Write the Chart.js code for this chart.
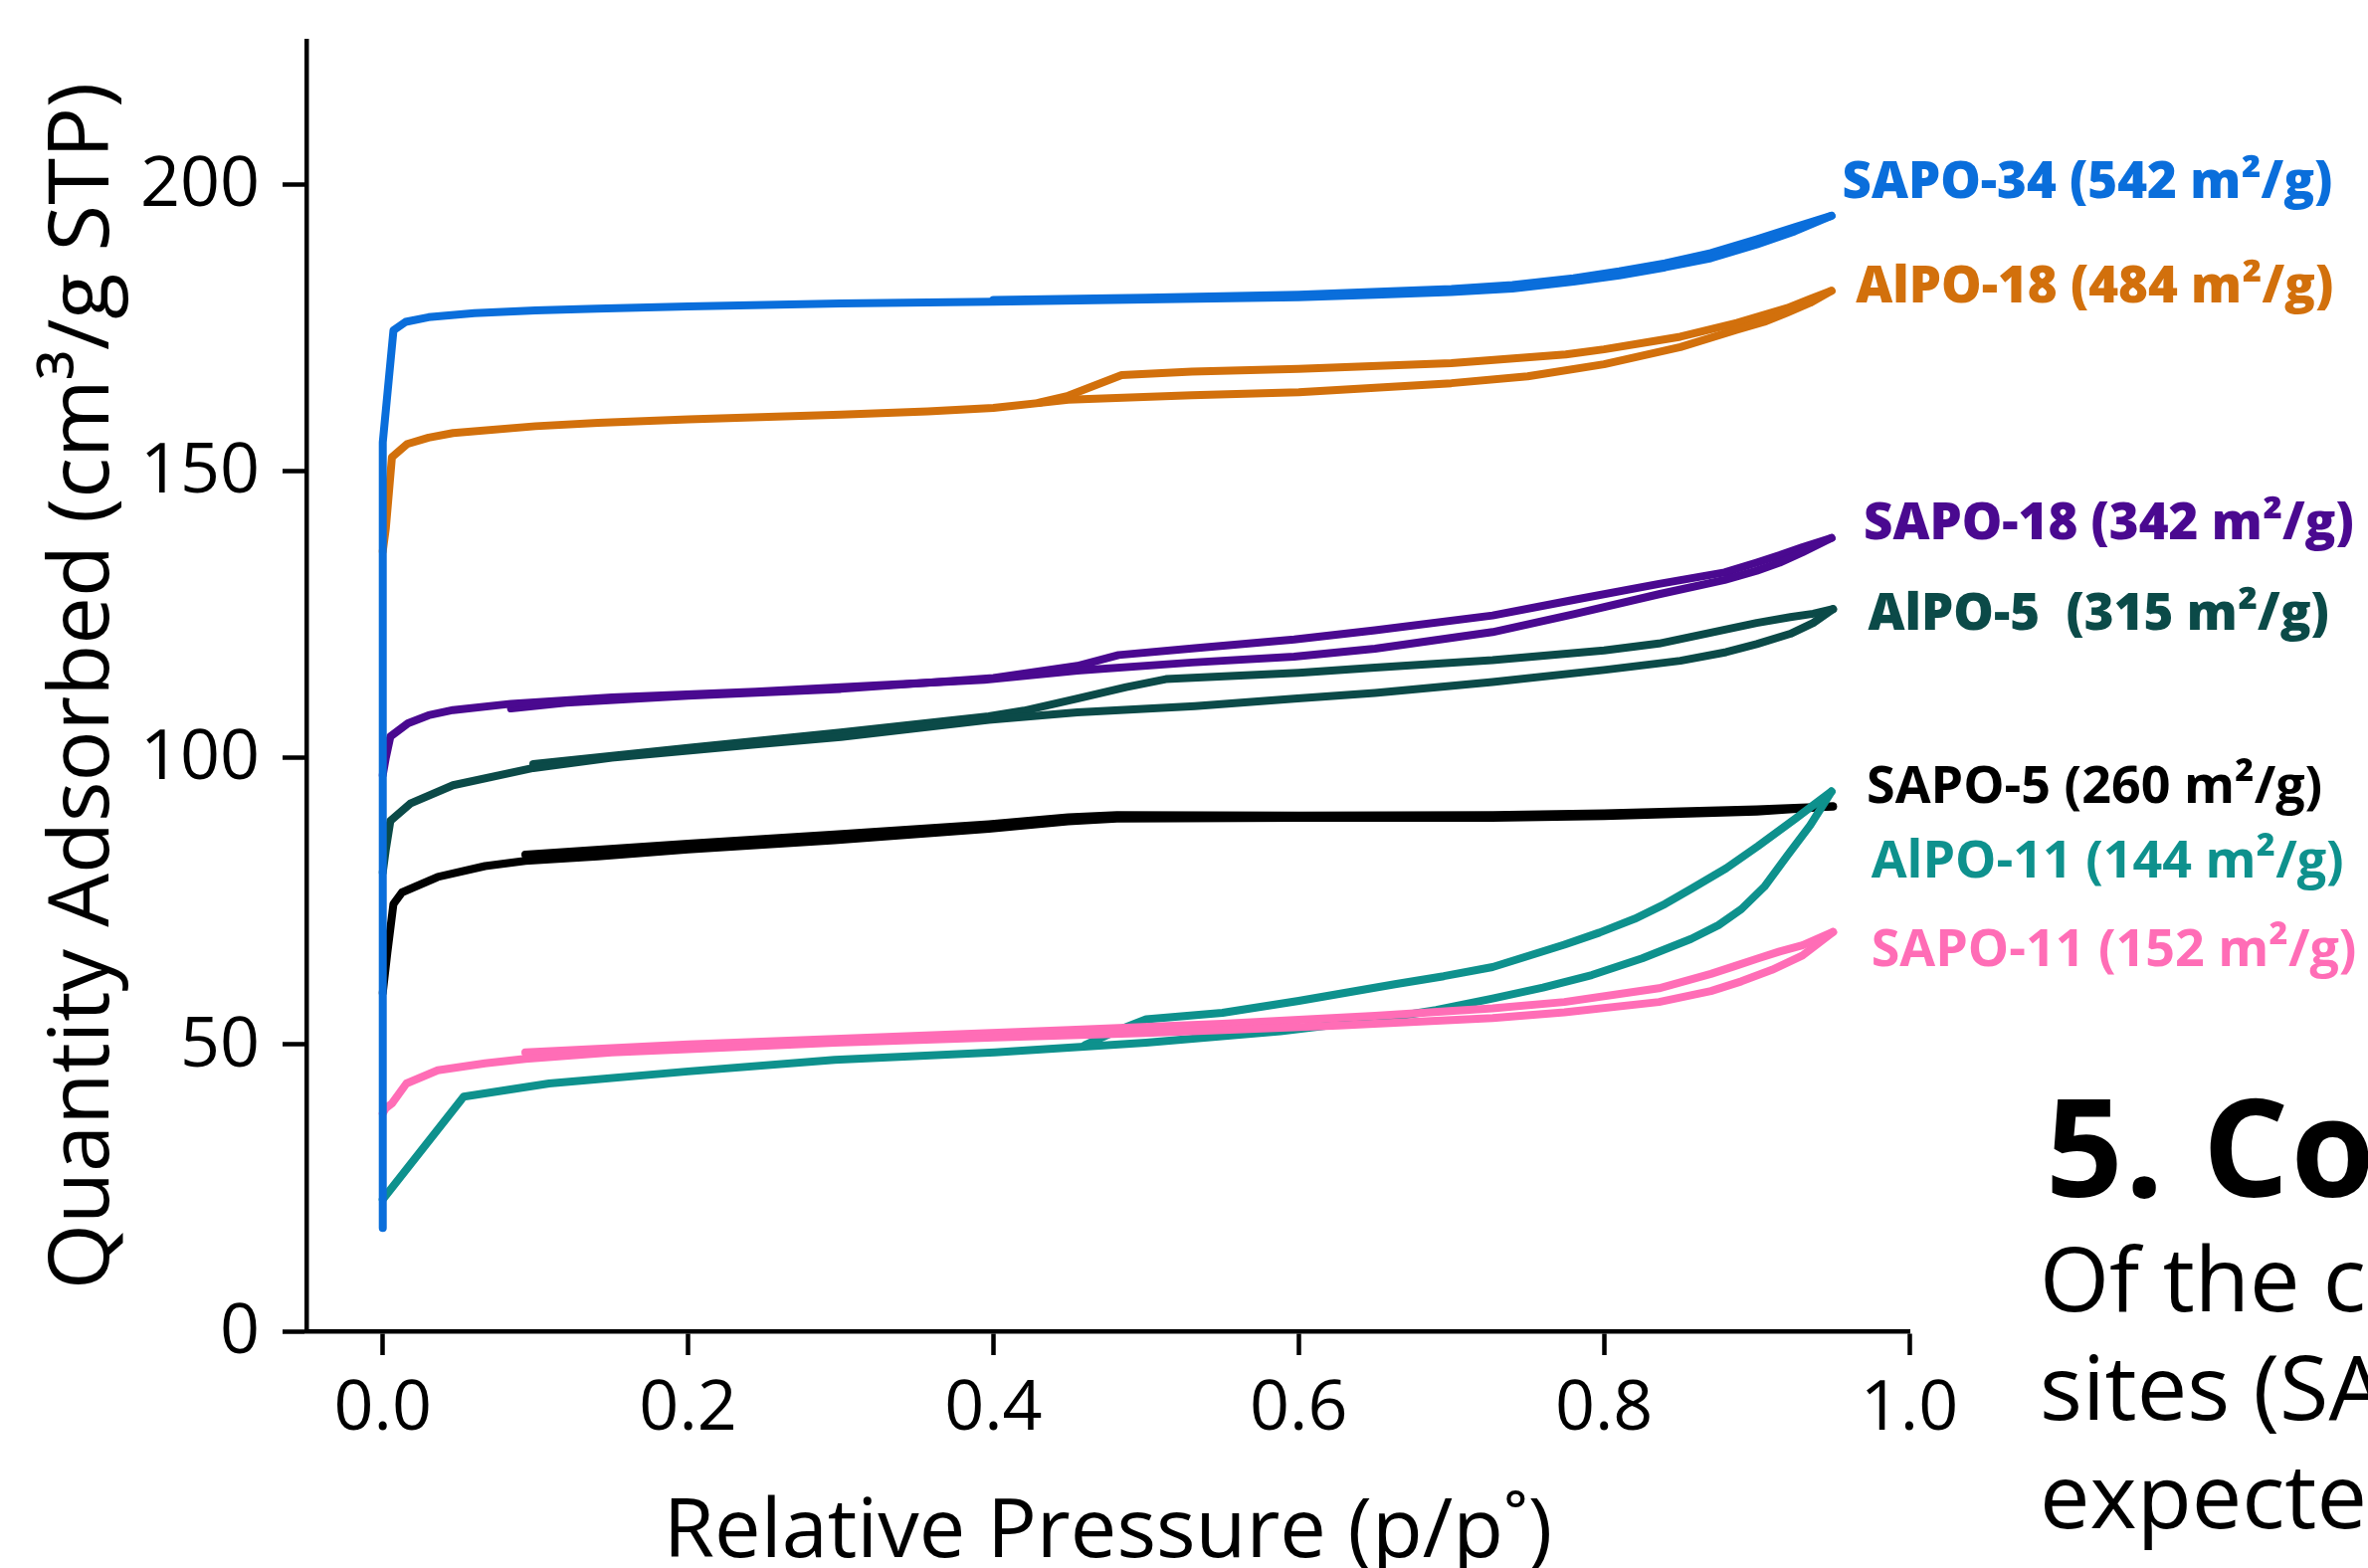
<!DOCTYPE html>
<html>
<head>
<meta charset="utf-8">
<script src="https://cdn.jsdelivr.net/npm/chart.js@4.4.1/dist/chart.umd.min.js"></script>
<style>
  html, body { margin: 0; padding: 0; background: #fff; overflow: hidden; }
  body { width: 2380px; height: 1576px; position: relative; }
  #grafico { position: absolute; left: 0; top: 0; }
  .poster { position: absolute; white-space: nowrap; font-family: "Open Sans", sans-serif; color: #000; line-height: 1; }
  #titulo { left: 2056px; top: 1083px; font-size: 136px; font-weight: 700; letter-spacing: 2px; }
  .corpo { left: 2050px; font-size: 90px; }
</style>
</head>
<body>
<canvas id="grafico" width="2380" height="1576"></canvas>
<div class="poster" id="titulo">5. Con</div>
<div class="poster corpo" style="top:1238px">Of the co</div>
<div class="poster corpo" style="top:1347px">sites (SAP</div>
<div class="poster corpo" style="top:1456px">expected</div>
<script>
// Isotermas de N2 (p/p° , cm³/g STP): ramo de adsorção seguido do ramo de dessorção
const sapo34 = [[0,18],[0,155],[0.007,174.5],[0.015,176],[0.03,176.8],[0.06,177.5],[0.1,178],[0.14,178.3],[0.2,178.7],[0.3,179.2],[0.4,179.5],[0.5,179.9],[0.6,180.3],[0.65,180.7],[0.7,181.2],[0.74,181.8],[0.78,183],[0.81,184.1],[0.84,185.5],[0.87,187.1],[0.9,189.5],[0.925,191.8],[0.949,194.5],
  [0.925,192.5],[0.9,190.4],[0.87,188],[0.84,186.2],[0.81,184.8],[0.78,183.6],[0.74,182.4],[0.7,181.7],[0.6,180.7],[0.5,180.2],[0.4,179.8]];
const alpo18 = [[0,136],[0.002,140],[0.006,152.4],[0.016,154.7],[0.03,155.8],[0.046,156.6],[0.1,157.8],[0.141,158.4],[0.2,159],[0.3,159.8],[0.357,160.4],[0.4,161],[0.449,162.4],[0.53,163.2],[0.6,163.7],[0.7,165.3],[0.75,166.5],[0.8,168.6],[0.85,171.6],[0.887,174.6],[0.905,176],[0.92,177.6],[0.935,179.3],[0.949,181.4],
  [0.935,180],[0.92,178.4],[0.887,175.8],[0.85,173.4],[0.8,171.2],[0.775,170.3],[0.7,168.8],[0.6,167.8],[0.53,167.3],[0.484,166.7],[0.449,163.1],[0.43,161.9]];
const sapo18 = [[0,97],[0.002,100],[0.005,103.7],[0.0165,106],[0.03,107.4],[0.046,108.3],[0.084,109.4],[0.15,110.5],[0.244,111.5],[0.3,112.3],[0.394,113.6],[0.455,115.2],[0.53,116.6],[0.597,117.6],[0.65,119],[0.727,121.9],[0.78,125],[0.836,128.5],[0.879,131],[0.9,132.6],[0.915,134],[0.93,135.8],[0.949,138.3],
  [0.93,136.7],[0.915,135.3],[0.9,134],[0.879,132.3],[0.836,130.3],[0.78,127.5],[0.727,124.8],[0.65,122.2],[0.597,120.6],[0.532,119.1],[0.482,117.9],[0.455,116],[0.4,113.9],[0.3,112],[0.2,110.8],[0.12,109.6],[0.084,108.6]];
const alpo5 = [[0,80],[0.002,84],[0.005,89],[0.018,92],[0.046,95.2],[0.0986,98.2],[0.15,100],[0.244,102.3],[0.3,103.6],[0.397,106.6],[0.455,107.9],[0.532,109],[0.597,110.3],[0.65,111.3],[0.727,113.2],[0.8,115.3],[0.85,116.9],[0.88,118.4],[0.9,119.8],[0.922,121.6],[0.937,123.5],[0.95,125.9],
  [0.937,125.1],[0.922,124.5],[0.9,123.5],[0.87,121.8],[0.836,119.9],[0.8,118.7],[0.727,117],[0.65,115.7],[0.6,114.8],[0.513,113.7],[0.487,112.3],[0.455,110.3],[0.42,108.2],[0.397,107.2],[0.3,104.4],[0.2,101.7],[0.0986,98.9]];
const sapo5 = [[0,59],[0.003,66],[0.007,74.5],[0.0125,76.5],[0.036,79.2],[0.067,81.1],[0.0934,82],[0.141,82.8],[0.2,84],[0.296,85.6],[0.397,87.6],[0.449,88.9],[0.481,89.4],[0.6,89.5],[0.727,89.5],[0.8,89.8],[0.9,90.6],[0.95,91.5],
  [0.9,91],[0.8,90.3],[0.727,90],[0.6,89.9],[0.481,90],[0.449,89.6],[0.397,88.4],[0.296,86.6],[0.2,85],[0.0934,83.1]];
const alpo11 = [[0,23],[0.053,40.9],[0.109,43.2],[0.2,45.3],[0.296,47.3],[0.401,48.6],[0.5,50.3],[0.588,52.3],[0.65,54.3],[0.69,56],[0.727,58],[0.76,59.9],[0.792,62.1],[0.825,65],[0.857,68.4],[0.875,70.8],[0.89,73.6],[0.905,77.5],[0.92,82.9],[0.935,88.2],[0.949,94.1],
  [0.925,89.3],[0.901,84.6],[0.88,80.7],[0.857,77.1],[0.84,74.5],[0.82,71.9],[0.797,69.5],[0.774,67.4],[0.75,65.4],[0.727,63.5],[0.695,61.9],[0.663,60.5],[0.6,57.6],[0.55,55.5],[0.5,54.4],[0.48,52.3],[0.46,49.9]];
const sapo11 = [[0,38],[0.002,38.9],[0.006,39.7],[0.0155,43.2],[0.036,45.5],[0.067,46.7],[0.0934,47.5],[0.15,48.6],[0.2,49.2],[0.296,50.3],[0.401,51.2],[0.5,52],[0.626,53.3],[0.727,54.6],[0.774,55.6],[0.836,57.4],[0.87,59.3],[0.89,61],[0.91,63],[0.93,65.5],[0.95,69.6],
  [0.93,67.3],[0.915,66.2],[0.901,65],[0.885,63.6],[0.87,62.3],[0.836,59.8],[0.774,57.4],[0.727,56.3],[0.65,55],[0.55,53.6],[0.45,52.5],[0.3,51],[0.2,50],[0.0934,48.6]];

const nomes = ['SAPO-34 (542 m²/g)', 'AlPO-18 (484 m²/g)', 'SAPO-18 (342 m²/g)', 'AlPO-5  (315 m²/g)',
               'SAPO-5 (260 m²/g)', 'AlPO-11 (144 m²/g)', 'SAPO-11 (152 m²/g)'];
const curvas = [sapo34, alpo18, sapo18, alpo5, sapo5, alpo11, sapo11];
const cores = ['#0a6edb', '#d2700c', '#4a0990', '#0b4a48', '#000000', '#0e918d', '#ff6db6'];
// ordem de desenho (0 = por cima)
const ordem = [0, 6, 5, 4, 3, 2, 1];
// onde fica cada rótulo (p/p°, cm³/g)
const rotuloX = [0.956, 0.965, 0.970, 0.973, 0.972, 0.975, 0.975];
const rotuloY = [200.7, 182.6, 141.2, 125.4, 95.3, 82.3, 66.8];
const rotuloPeso = [800, 800, 800, 800, 700, 700, 700];

const xTicks = [0, 0.2, 0.4, 0.6, 0.8, 1.0];
const yTicks = [0, 50, 100, 150, 200];

const fonte = '"Open Sans", sans-serif';

// Separa a isoterma em adsorção e dessorção
function ramos(pts) {
    let k = 0;
    pts.forEach((p, i) => { if (p[0] > pts[k][0]) k = i; });
    return [pts.slice(0, k + 1), pts.slice(k)];
}

// Plugin para escrever o nome de cada amostra na ponta da curva
const rotulos = {
    id: 'rotulos',
    afterDatasetsDraw(chart) {
        const ctx = chart.ctx;
        const sx = chart.scales.x, sy = chart.scales.y;
        ctx.save();
        nomes.forEach((nome, i) => {
            const tam = rotuloPeso[i] === 800 ? 51 : 52;
            ctx.font = `${rotuloPeso[i]} ${tam}px ${fonte}`;
            ctx.fillStyle = cores[i];
            ctx.textAlign = 'left';
            ctx.textBaseline = 'alphabetic';
            ctx.fillText(nome, sx.getPixelForValue(rotuloX[i]), sy.getPixelForValue(rotuloY[i]) + 0.357 * tam);
        });
        ctx.restore();
    }
};

const datasets = [];
curvas.forEach((pts, i) => {
    ramos(pts).forEach((ramo, j) => {
        datasets.push({
            label: nomes[i] + (j === 0 ? ' ads' : ' des'),
            data: ramo.map(p => ({ x: p[0], y: p[1] })),
            borderColor: cores[i],
            backgroundColor: cores[i],
            borderWidth: 8,
            borderCapStyle: 'round',
            borderJoinStyle: 'round',
            pointRadius: 0,
            showLine: true,
            tension: 0,
            fill: false,
            order: ordem[i],
            clip: false
        });
    });
});

const eixo = {
    border: { display: true, color: '#000', width: 4.5 },
    grid: { display: true, drawOnChartArea: false, drawTicks: true, tickLength: 24, tickWidth: 4.5, tickColor: '#000' }
};

new Chart(document.getElementById('grafico').getContext('2d'), {
    type: 'scatter',
    data: { datasets },
    options: {
        responsive: false,
        animation: false,
        devicePixelRatio: 1,
        layout: { padding: { left: 0, right: 461, top: 41, bottom: 0 } },
        plugins: { legend: { display: false }, tooltip: { enabled: false } },
        scales: {
            x: {
                type: 'linear', min: -0.05, max: 1.0,
                ...eixo,
                afterBuildTicks: s => { s.ticks = xTicks.map(v => ({ value: v })); },
                afterFit: s => { s.height = 238; s.paddingLeft = 0; s.paddingRight = 0; },
                ticks: {
                    color: '#000', padding: 13, maxRotation: 0, autoSkip: false,
                    font: { family: fonte, size: 70 },
                    callback: v => v.toFixed(1)
                },
                title: {
                    display: true, text: 'Relative Pressure (p/p˚)', color: '#000',
                    font: { family: fonte, size: 83, lineHeight: 0.8 },
                    padding: { top: 0, bottom: 1 }
                }
            },
            y: {
                type: 'linear', min: 0, max: 225,
                ...eixo,
                afterBuildTicks: s => { s.ticks = yTicks.map(v => ({ value: v })); },
                afterFit: s => { s.width = 308; s.paddingTop = 0; s.paddingBottom = 0; },
                ticks: {
                    color: '#000', padding: 23, labelOffset: 2, autoSkip: false,
                    font: { family: fonte, size: 70 },
                    callback: v => String(v)
                },
                title: {
                    display: true, text: 'Quantity Adsorbed (cm³/g STP)', color: '#000',
                    font: { family: fonte, size: 85 },
                    padding: { top: 34, bottom: 0 }
                }
            }
        }
    },
    plugins: [rotulos]
});
</script>
</body>
</html>
